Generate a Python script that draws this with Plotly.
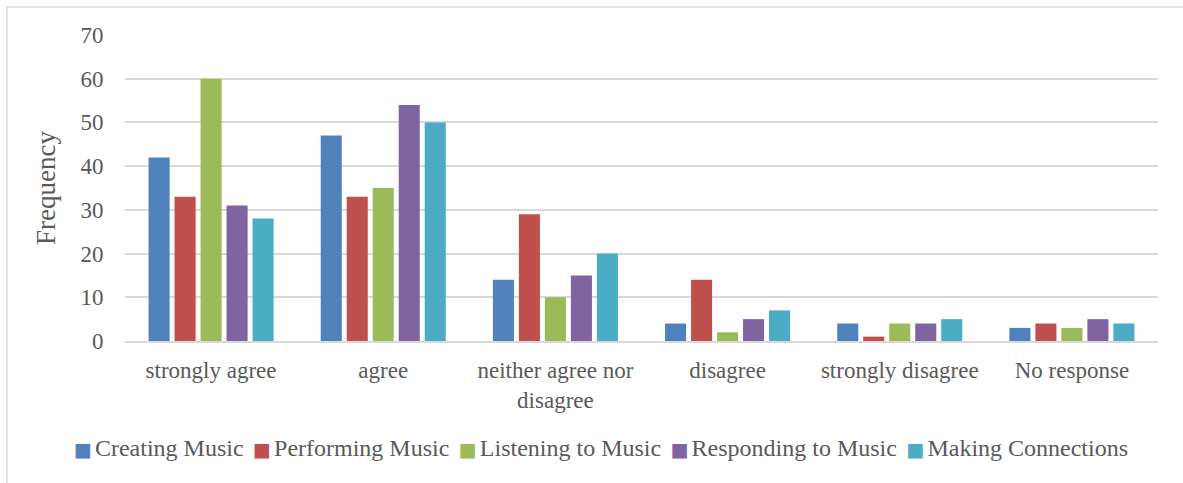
import plotly.graph_objects as go

categories = ["strongly agree", "agree", "neither agree nor<br>disagree",
              "disagree", "strongly disagree", "No response"]
series_names = ["Creating Music", "Performing Music", "Listening to Music",
                "Responding to Music", "Making Connections"]
creating = [42, 47, 14, 4, 4, 3]
performing = [33, 33, 29, 14, 1, 4]
listening = [60, 35, 10, 2, 4, 3]
responding = [31, 54, 15, 5, 4, 5]
connections = [28, 50, 20, 7, 5, 4]
colors = ["#4F81BD", "#C0504D", "#9BBB59", "#8064A2", "#4BACC6"]
y_ticks = [0, 10, 20, 30, 40, 50, 60, 70]

FONT = "Liberation Serif"
TEXT = "#595959"

fig = go.Figure()
for name, vals, col in zip(series_names,
                           [creating, performing, listening, responding, connections],
                           colors):
    fig.add_trace(go.Bar(name=name, x=categories, y=vals, marker_color=col,
                         marker_line_width=0, showlegend=False))

W, H = 1183, 483
L, R, T, B = 125, 25, 35, 142
pw, ph = W - L - R, H - T - B

def px(x):
    return (x - L) / pw

def py(y):
    return (H - B - y) / ph

# One-line legend: coloured square glyph followed by the series name
NB = "\u00a0"
legend_text = f"{NB}<span style='font-size:14px'>{NB}</span>".join(
    f"<span style='color:{c}; font-family:DejaVu Sans; font-size:19px'>■</span>"
    f"<span style='font-size:12px'>{NB}</span>{n}"
    for n, c in zip(series_names, colors)
)

fig.update_layout(
    width=W, height=H,
    margin=dict(l=L, r=R, t=T, b=B),
    paper_bgcolor="white", plot_bgcolor="white",
    barmode="group", bargap=0.245, bargroupgap=0.19,
    font=dict(family=FONT, size=24, color=TEXT),
    showlegend=False,
    xaxis=dict(showgrid=False, showline=True, linecolor="#D9D9D9", linewidth=2,
               ticks="outside", ticklen=7, tickcolor="rgba(0,0,0,0)",
               tickfont=dict(family=FONT, size=23, color=TEXT)),
    yaxis=dict(range=[0, 70], tickvals=y_ticks, showgrid=True,
               gridcolor="#D9D9D9", gridwidth=1.5, zeroline=False,
               showline=False, ticks="outside", ticklen=16,
               tickcolor="rgba(0,0,0,0)",
               tickfont=dict(family=FONT, size=23, color=TEXT),
               title=dict(text="Frequency", standoff=16,
                          font=dict(family=FONT, size=27, color=TEXT))),
    annotations=[dict(text=legend_text, xref="paper", yref="paper",
                      x=px(601), y=py(448), xanchor="center", yanchor="middle",
                      showarrow=False,
                      font=dict(family=FONT, size=24, color=TEXT))],
    shapes=[dict(type="rect", xref="paper", yref="paper",
                 x0=px(7), x1=px(1195), y0=py(495), y1=py(7),
                 line=dict(color="#D9D9D9", width=1.5), layer="below")],
)

fig.write_html("out.html")
